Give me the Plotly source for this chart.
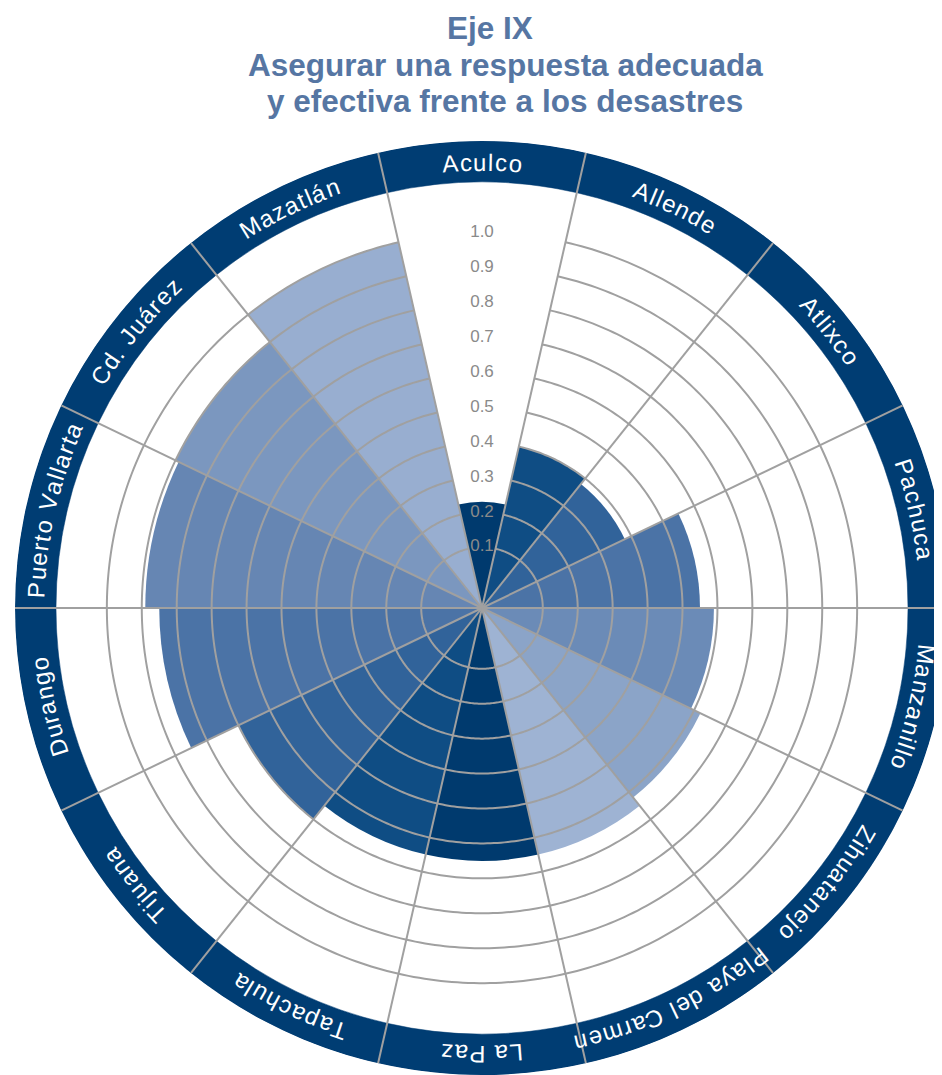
import numpy as np
import plotly.graph_objects as go

# ---------------- data ----------------
categories = ["Aculco", "Allende", "Atlixco", "Pachuca", "Manzanillo", "Zihuatanejo",
              "Playa del Carmen", "La Paz", "Tapachula", "Tijuana", "Durango",
              "Puerto Vallarta", "Cd. Juárez", "Mazatlán"]
values = [0.23, 0.40, 0.38, 0.55, 0.59, 0.62, 0.65,
          0.65, 0.65, 0.70, 0.85, 0.89, 0.90, 1.00]
bar_colors = ["#003a6e", "#0f4d84", "#31639a", "#4b73a6", "#6b8bb7", "#8ba4c8", "#9eb3d3",
              "#003a6e", "#0f4d84", "#31639a", "#4b73a6", "#6686b3", "#7b97bf", "#98aed0"]
tick_values = [0.1, 0.2, 0.3, 0.4, 0.5, 0.6, 0.7, 0.8, 0.9, 1.0]
tick_labels = ["0.1", "0.2", "0.3", "0.4", "0.5", "0.6", "0.7", "0.8", "0.9", "1.0"]
title_lines = ["Eje IX", "Asegurar una respuesta adecuada", "y efectiva frente a los desastres"]

# ---------------- geometry / style ----------------
W, H = 942, 1075
OFF = 8                    # page body margin (px)
CX, CY = 482 - OFF, 608 - OFF   # centre of the polar area in figure px
R_PX = 467                 # outer radius of the ring (px)
PX_PER_UNIT = 349.3        # radial scale
R_MIN = -0.074             # value at the centre
BAND_IN_PX = 426           # inner radius of the label ring (px)
LABEL_R_PX = 446
R_MAX = R_MIN + R_PX / PX_PER_UNIT
BAND_IN = R_MIN + BAND_IN_PX / PX_PER_UNIT

NAVY = "#003d73"
GRID = "#a0a0a0"
TITLE_C = "#5676a3"

n = len(categories)
step = 360.0 / n
centers = [i * step for i in range(n)]
bounds = [(i + 0.5) * step for i in range(n)]

fig = go.Figure()

# data bars
fig.add_trace(go.Barpolar(
    r=[v - R_MIN for v in values], base=R_MIN, theta=centers, width=[step] * n,
    marker=dict(color=bar_colors, line=dict(width=0)), hoverinfo="skip"))

# outer label ring
fig.add_trace(go.Barpolar(
    r=[R_MAX - BAND_IN] * n, base=BAND_IN, theta=centers, width=[step] * n,
    marker=dict(color=NAVY, line=dict(color=NAVY, width=0.5)), hoverinfo="skip"))

# circular grid (drawn above the bars, skipping the first sector)
th = np.linspace(step / 2, 360 - step / 2, 400)
rc, tc = [], []
for t in tick_values:
    rc += [t] * len(th) + [None]
    tc += list(th) + [None]
fig.add_trace(go.Scatterpolar(r=rc, theta=tc, mode="lines",
                              line=dict(color=GRID, width=2), hoverinfo="skip"))

# spokes at the category boundaries
rs, ts = [], []
for b in bounds:
    rs += [R_MIN, R_MAX, None]
    ts += [b, b, None]
fig.add_trace(go.Scatterpolar(r=rs, theta=ts, mode="lines",
                              line=dict(color=GRID, width=2), hoverinfo="skip"))

# radial tick labels in the first sector
fig.add_trace(go.Scatterpolar(r=tick_values, theta=[0] * len(tick_values), mode="text",
                              text=tick_labels, textposition="middle center",
                              textfont=dict(color="#8a8a8a", size=17, family="Liberation Sans"),
                              hoverinfo="skip"))

# ---------------- curved category labels ----------------
CHAR_W = {' ': 278, '.': 278, 'A': 667, 'C': 722, 'D': 722, 'J': 500, 'L': 556, 'M': 833,
          'P': 667, 'T': 611, 'V': 667, 'Z': 611, 'a': 556, 'á': 556, 'b': 556, 'c': 500,
          'd': 556, 'e': 556, 'g': 556, 'h': 556, 'i': 222, 'j': 222, 'l': 222, 'm': 833,
          'n': 556, 'o': 556, 'p': 556, 'r': 333, 't': 278, 'u': 556, 'x': 500, 'y': 500,
          'z': 500}
FS = 24
TRACK = 1.5
annotations = []
for cat, c in zip(categories, centers):
    adv = [CHAR_W.get(ch, 556) / 1000 * FS for ch in cat]
    total = sum(adv) + TRACK * (len(cat) - 1)
    start = np.radians(c) - (total / 2) / LABEL_R_PX
    acc = 0.0
    for ch, a in zip(cat, adv):
        phi = start + (acc + a / 2) / LABEL_R_PX
        acc += a + TRACK
        if ch == ' ':
            continue
        x = CX + LABEL_R_PX * np.sin(phi)
        y = CY - LABEL_R_PX * np.cos(phi)
        ang = ((np.degrees(phi) + 180) % 360) - 180
        annotations.append(dict(text=ch, x=x / W, y=1 - y / H, xref="paper", yref="paper",
                                xanchor="center", yanchor="middle", textangle=ang,
                                showarrow=False,
                                font=dict(color="white", size=FS, family="Liberation Sans")))

# ---------------- title ----------------
title_font = dict(color=TITLE_C, size=31.5, family="Liberation Sans", weight="bold")
annotations.append(dict(text=title_lines[0], x=(490 - OFF) / W, y=1.0, xref="paper",
                        yref="paper", xanchor="center", yanchor="top", showarrow=False,
                        font=title_font))
for txt, (tx, ty) in zip(title_lines[1:], [(505, 65), (505, 101)]):
    annotations.append(dict(text=txt, x=(tx - OFF) / W, y=1 - (ty - OFF) / H,
                            xref="paper", yref="paper",
                            xanchor="center", yanchor="middle", showarrow=False,
                            font=title_font))

fig.update_layout(
    width=W, height=H, margin=dict(l=0, r=0, t=0, b=0),
    paper_bgcolor="white", showlegend=False,
    annotations=annotations,
    polar=dict(
        domain=dict(x=[(CX - R_PX) / W, min(1.0, (CX + R_PX) / W)],
                    y=[(H - CY - R_PX) / H, (H - CY + R_PX) / H]),
        bgcolor="white", barmode="overlay",
        radialaxis=dict(range=[R_MIN, R_MAX], visible=False, showgrid=False),
        angularaxis=dict(direction="clockwise", rotation=90, showgrid=False,
                         showline=False, showticklabels=False, ticks=""),
    ),
)

fig.write_html("out.html")
